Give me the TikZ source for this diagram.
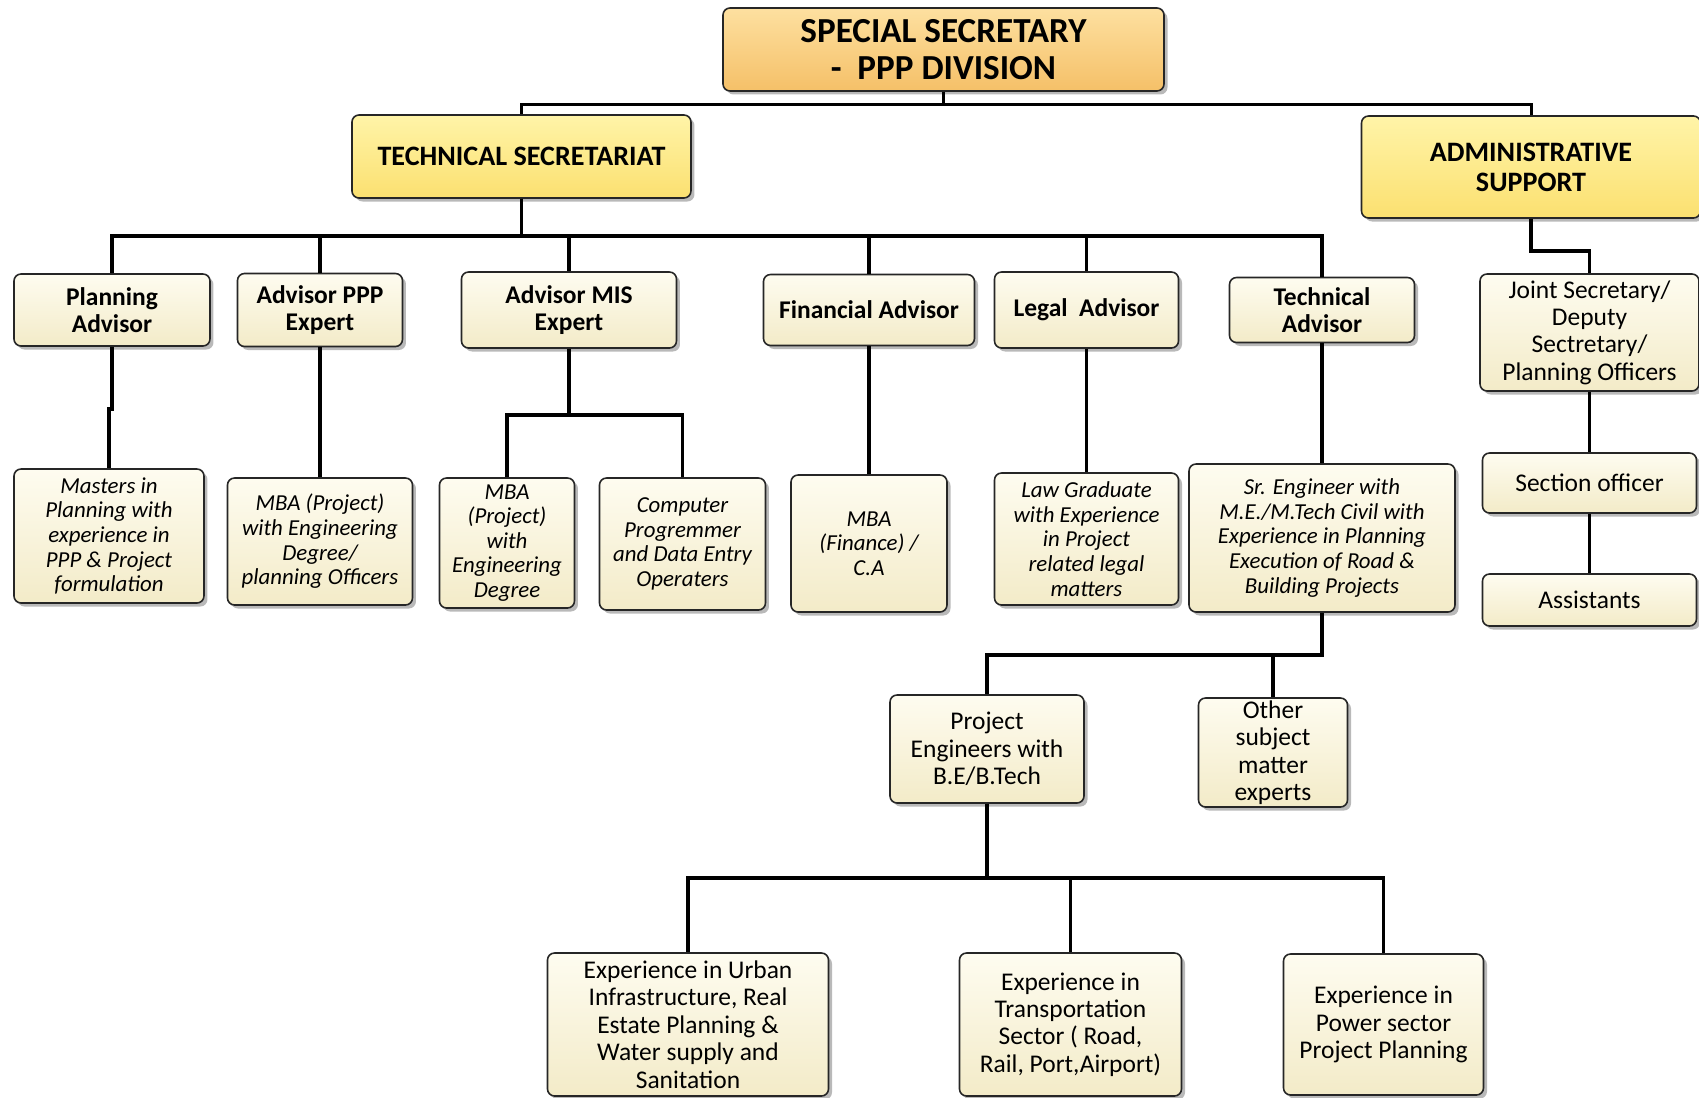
\documentclass[tikz,border=0pt]{standalone}
\usepackage{fontspec}
\setmainfont{Carlito}
\usepackage{tikz}
\usetikzlibrary{shapes, shadows, positioning}
\definecolor{headtop}{HTML}{FDE0A0}
\definecolor{headbot}{HTML}{F5C068}
\definecolor{wingtop}{HTML}{FFF4A8}
\definecolor{wingbot}{HTML}{FBE070}
\definecolor{posttop}{HTML}{FEFCF0}
\definecolor{postbot}{HTML}{F3EBC8}
\tikzstyle{head} = [rectangle, rounded corners=4pt, minimum width=8.82cm, minimum height=1.66cm, text centered, draw=black!85, line width=0.9pt, top color=headtop, bottom color=headbot, drop shadow={shadow xshift=0.07cm, shadow yshift=-0.07cm, opacity=0.55}, font=\fontsize{20}{21}\selectfont\bfseries]
\tikzstyle{wing} = [rectangle, rounded corners=4pt, minimum width=6.78cm, minimum height=1.66cm, text centered, draw=black!85, line width=0.9pt, top color=wingtop, bottom color=wingbot, drop shadow={shadow xshift=0.07cm, shadow yshift=-0.07cm, opacity=0.55}, font=\fontsize{16}{17.2}\selectfont\bfseries]
\tikzstyle{post} = [rectangle, rounded corners=4pt, minimum height=1.44cm, text centered, draw=black!85, line width=0.9pt, top color=posttop, bottom color=postbot, drop shadow={shadow xshift=0.07cm, shadow yshift=-0.07cm, opacity=0.55}, font=\fontsize{14.5}{15.4}\selectfont\bfseries]
\tikzstyle{quali} = [rectangle, rounded corners=4pt, inner sep=2pt, text centered, draw=black!85, line width=0.9pt, top color=posttop, bottom color=postbot, drop shadow={shadow xshift=0.07cm, shadow yshift=-0.07cm, opacity=0.55}, font=\fontsize{13}{14}\selectfont\itshape]
\tikzstyle{staff} = [rectangle, rounded corners=4pt, inner sep=1pt, text centered, draw=black!85, line width=0.9pt, top color=posttop, bottom color=postbot, drop shadow={shadow xshift=0.07cm, shadow yshift=-0.07cm, opacity=0.55}, font=\fontsize{14.5}{15.6}\selectfont]
\tikzstyle{conn} = [line width=2.2pt, draw=black]
\tikzstyle{topconn} = [line width=1.7pt, draw=black]

\begin{document}
\begin{tikzpicture}[align = center, node distance = 4cm]
\useasboundingbox (-18.87,0.99) rectangle (15.11,-20.95);
\node (top) [head] {SPECIAL SECRETARY\\ -\ \ PPP DIVISION};
\node (ts) [wing, below of=top, xshift=-8.44cm, yshift=1.86cm] {TECHNICAL SECRETARIAT};
\node (as) [wing, minimum height=2.04cm, below of=top, xshift=11.75cm, yshift=1.65cm] {ADMINISTRATIVE\\SUPPORT};
\node (ad1) [post, minimum width=3.92cm, below of=ts, xshift=-8.19cm, yshift=0.93cm] {Planning\\Advisor};
\node (ad2) [post, minimum width=3.30cm, minimum height=1.46cm, right of=ad1, xshift=0.16cm] {Advisor PPP\\Expert};
\node (ad3) [post, minimum width=4.30cm, minimum height=1.52cm, right of=ad2, xshift=0.98cm] {Advisor MIS\\Expert};
\node (ad4) [post, minimum width=4.22cm, minimum height=1.42cm, right of=ad3, xshift=2.0cm] {Financial Advisor};
\node (ad5) [post, minimum width=3.68cm, minimum height=1.52cm, right of=ad4, xshift=0.35cm] {Legal\ \ Advisor};
\node (ad6) [post, minimum width=3.70cm, minimum height=1.30cm, right of=ad5, xshift=0.71cm] {Technical\\Advisor};
\node (js) [staff, minimum width=4.38cm, minimum height=2.34cm, below of=as, xshift=1.17cm, yshift=0.69cm] {Joint Secretary/\\Deputy\\Sectretary/\\Planning Officers};
\node (q1) [quali, minimum width=3.80cm, minimum height=2.68cm, below of=ad1, xshift=-0.06cm, yshift=-0.52cm] {Masters in\\Planning with\\experience in\\PPP \& Project\\formulation};
\node (q2) [quali, minimum width=3.70cm, minimum height=2.54cm, below of=ad2, yshift=-0.63cm] {MBA (Project)\\with Engineering\\Degree/\\planning Officers};
\node (q3) [quali, minimum width=2.70cm, minimum height=2.60cm, below of=ad3, xshift=-1.24cm, yshift=-0.66cm] {MBA\\(Project)\\with\\Engineering\\Degree};
\node (q4) [quali, minimum width=3.32cm, minimum height=2.64cm, right of=q3, xshift=-0.49cm, yshift=-0.02cm] {Computer\\Progremmer\\and Data Entry\\Operaters};
\node (q5) [quali, minimum width=3.12cm, minimum height=2.74cm, below of=ad4, yshift=-0.67cm] {MBA\\(Finance) /\\C.A};
\node (q6) [quali, minimum width=3.68cm, minimum height=2.64cm, below of=ad5, yshift=-0.58cm] {Law Graduate\\with Experience\\in Project\\related legal\\matters};
\node (q7) [quali, minimum width=5.32cm, minimum height=2.96cm, below of=ad6, yshift=-0.56cm] {Sr. Engineer with\\M.E./M.Tech Civil with\\Experience in Planning\\Execution of Road \&\\Building Projects};
\node (so) [staff, minimum width=4.28cm, minimum height=1.20cm, below of=js, yshift=0.99cm] {Section officer};
\node (ast) [staff, minimum width=4.28cm, minimum height=1.04cm, below of=so, yshift=1.66cm] {Assistants};
\node (pe) [staff, minimum width=3.88cm, minimum height=2.16cm, below of=q7, xshift=-6.70cm, yshift=-0.22cm] {Project\\Engineers with\\B.E/B.Tech};
\node (oth) [staff, minimum width=2.98cm, minimum height=2.18cm, right of=pe, xshift=1.72cm, yshift=-0.07cm] {Other\\subject\\matter\\experts};
\node (ex2) [staff, minimum width=4.44cm, minimum height=2.86cm, below of=pe, xshift=1.67cm, yshift=-1.51cm] {Experience in\\Transportation\\Sector ( Road,\\Rail, Port,Airport)};
\node (ex1) [staff, minimum width=5.62cm, minimum height=2.86cm, left of=ex2, xshift=-3.65cm] {Experience in Urban\\Infrastructure, Real\\Estate Planning \&\\Water supply and\\Sanitation};
\node (ex3) [staff, minimum width=4.00cm, minimum height=2.82cm, right of=ex2, xshift=2.26cm] {Experience in\\Power sector\\Project Planning};

%---------------------------------LINES
\draw [topconn] (top.south) -- ++(0,-0.26) -| (ts.north);
\draw [topconn] (top.south) -- ++(0,-0.26) -| (as.north);
\draw [conn] (ts.south) -- ++(0,-0.74) -| (ad1.north);
\draw [conn] (ts.south) -- ++(0,-0.74) -| (ad2.north);
\draw [conn] (ts.south) -- ++(0,-0.74) -| (ad3.north);
\draw [conn] (ts.south) -- ++(0,-0.74) -| (ad4.north);
\draw [conn] (ts.south) -- ++(0,-0.74) -| (ad5.north);
\draw [conn] (ts.south) -- ++(0,-0.74) -| (ad6.north);
\draw [conn] (as.south) -- ++(0,-0.64) -| (js.north);
\draw [conn] (ad1.south) -- ++(0,-1.24) -| (q1.north);
\draw [conn] (ad2) -- (q2);
\draw [conn] (ad3.south) -- ++(0,-1.32) -| (q3.north);
\draw [conn] (ad3.south) -- ++(0,-1.32) -| (q4.north);
\draw [conn] (ad4) -- (q5);
\draw [conn] (ad5) -- (q6);
\draw [conn] (ad6) -- (q7);
\draw [conn] (js) -- (so);
\draw [conn] (so) -- (ast);
\draw [conn] (q7.south) -- ++(0,-0.84) -| (pe.north);
\draw [conn] (q7.south) -- ++(0,-0.84) -| (oth.north);
\draw [conn] (pe.south) -- ++(0,-1.48) -| (ex1.north);
\draw [conn] (pe.south) -- ++(0,-1.48) -| (ex2.north);
\draw [conn] (pe.south) -- ++(0,-1.48) -| (ex3.north);

\end{tikzpicture}
\end{document}
